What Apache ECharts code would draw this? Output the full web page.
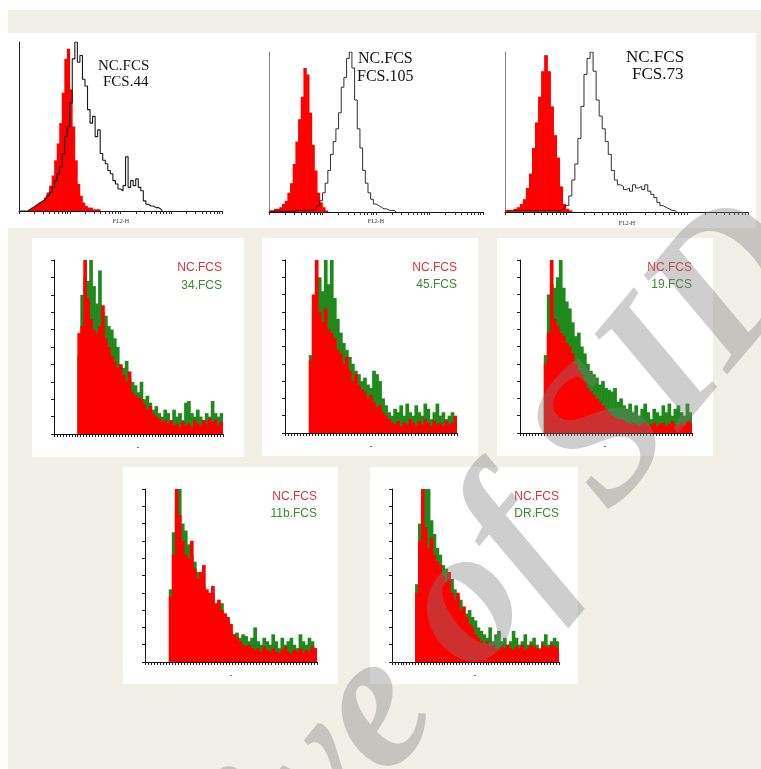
<!DOCTYPE html>
<html>
<head>
<meta charset="utf-8">
<script src="https://cdn.jsdelivr.net/npm/echarts@6/dist/echarts.min.js"></script>
<style>html,body{margin:0;padding:0;background:#ffffff}#c{width:761px;height:769px}</style>
</head>
<body>
<div id="c"></div>
<script>
// ---------- DATA (bin heights, % of axis height) ----------
// Top row: NC (red filled) vs sample (black outline), 80 log-scale bins
const t1Red   = [0,0,0,0,1,2,3,4,5,6,8,11,15,21,30,40,52,70,90,96,72,50,30,16,9,5,3,2,2,1,1,1,0];
const t1Black = [0,0,0,0,1,2,3,4,5,6,7,9,11,14,18,22,26,34,44,50,64,90,100,88,92,78,74,60,52,56,44,48,34,30,28,24,22,18,16,13,12,15,32,14,18,15,19,14,12,6,4,3,3,2,2,1,0];
const t2Red   = [1,1,2,2,3,5,7,12,18,30,44,58,72,90,86,62,42,26,12,6,3,1,0];
const t2Black = [0.5,0.5,0.5,0.5,0.5,0.5,0.5,0.5,0.5,0.5,1,1,1,1,1,1,1,2,4,7,12,18,26,36,44,52,62,78,84,96,100,90,70,52,40,26,18,12,8,5,4,3,2,2,1,1,1,0];
const t3Red   = [1,1,1,2,3,5,8,15,24,40,56,72,88,98,88,66,48,34,16,5,2,1,0];
const t3Black = [1,1,1,1,1,1,1,1,1,1,1,1,1,1,1,1,1,1,1,2,4,10,20,30,46,66,86,96,100,88,70,60,52,44,36,26,20,17,16,14,15,13,17,15,16,14,17,13,11,9,6,4,3,2,1,1,0];
// Middle / bottom rows: NC (red) vs marker (green), 57 bins
const m1Red   = [0,0,0,0,0,0,0,0,58,62,100,78,66,60,58,62,74,55,50,45,42,38,40,34,30,36,24,22,21,20,17,14,16,12,10,9,7,8,6,8,5,6,4,7,5,6,4,8,6,5,8,6,9,7,8,5,7];
const m1Green = [0,0,0,0,0,0,0,0,45,80,90,88,100,85,75,94,70,68,62,60,55,50,40,38,42,32,30,28,24,30,20,22,18,14,16,12,10,14,12,8,14,10,12,8,18,19,12,10,14,10,8,12,10,19,12,10,12];
const m2Red   = [0,0,0,0,0,0,0,0,42,80,100,70,64,72,60,58,55,48,46,40,44,36,30,34,28,25,24,20,22,18,15,16,12,10,8,6,5,7,4,6,5,8,6,4,7,5,8,6,4,7,5,6,4,7,5,6,10];
const m2Green = [0,0,0,0,0,0,0,0,45,72,84,90,82,100,86,100,78,66,58,52,48,44,40,36,34,30,32,28,26,36,34,30,20,16,12,10,14,12,16,10,17,12,10,16,12,10,17,14,8,12,17,10,12,8,10,12,8];
const m3Red   = [0,0,0,0,0,0,0,0,40,58,100,66,62,58,56,52,50,46,40,36,34,30,26,24,22,20,18,16,14,12,10,9,8,8,7,6,5,6,5,4,5,6,4,5,6,4,5,6,4,5,7,5,4,6,5,7,6];
const m3Green = [0,0,0,0,0,0,0,0,45,80,86,84,90,100,84,76,72,64,56,58,50,46,40,36,34,32,28,30,26,25,24,26,18,20,16,14,17,12,16,10,14,17,12,8,14,12,10,16,12,17,10,14,16,12,10,17,12];
const b1Red   = [0,0,0,0,0,0,0,0,38,62,100,85,70,62,60,70,54,48,52,56,42,40,44,34,36,30,28,26,22,16,14,12,10,9,10,8,7,8,6,9,7,6,8,6,5,7,9,6,5,7,6,8,5,7,6,9,8];
const b1Green = [0,0,0,0,0,0,0,0,42,75,88,100,80,76,68,62,58,52,46,44,38,36,40,32,30,34,28,24,18,16,17,14,16,15,12,14,20,12,10,14,12,10,16,12,8,14,10,12,14,10,8,16,12,10,14,12,8];
const b2Red   = [0,0,0,0,0,0,0,0,40,70,100,78,66,72,62,58,56,50,46,52,40,36,40,30,32,26,22,20,16,14,12,10,12,9,10,8,7,9,8,10,8,7,9,8,10,7,8,10,9,8,7,10,9,8,10,9,8];
const b2Green = [0,0,0,0,0,0,0,0,45,80,92,100,100,82,74,66,62,56,54,46,48,42,38,36,32,28,30,26,24,20,18,16,14,20,12,16,18,12,14,10,12,18,14,10,12,16,10,12,14,10,8,12,16,10,12,14,12];

// Text
const topTexts = [['NC.FCS','FCS.44'],['NC.FCS','FCS.105'],['NC.FCS','FCS.73']];
const midTexts = [['NC.FCS','34.FCS'],['NC.FCS','45.FCS'],['NC.FCS','19.FCS'],['NC.FCS','11b.FCS'],['NC.FCS','DR.FCS']];
const topAxisName = 'FL2-H';
const midAxisName = '-';
const watermark = 'Archive of SID';
// log-axis tick values (decades 10^0 .. 10^4)
const logTicks = [1,2,3,4,5,6,7,8,9,10,20,30,40,50,60,70,80,90,100,200,300,400,500,600,700,800,900,1000,2000,3000,4000,5000,6000,7000,8000,9000,10000];

const N_TOP = 80, N_MID = 57;
const topBins = Array.from({length:N_TOP},(_,i)=>String(i));
const midBins = Array.from({length:N_MID},(_,i)=>String(i));

// ---------- LAYOUT ----------
const topPanels = [
  {g:{left:19,top:42,width:203,height:169}, red:t1Red, black:t1Black, txt:topTexts[0], tp:[[98,66],[103,82]], fs:15, name:[121,221], yc:'#222', lw:1.1},
  {g:{left:269,top:52,width:214,height:160}, red:t2Red, black:t2Black, txt:topTexts[1], tp:[[358,59],[357,77]], fs:16, name:[376,221], yc:'#888', lw:0.9},
  {g:{left:505,top:52,width:243,height:160}, red:t3Red, black:t3Black, txt:topTexts[2], tp:[[626,58],[632,75]], fs:17, name:[627,223], yc:'#888', lw:0.9}
];
const midPanels = [
  {box:[32,238,212,219], g:{left:54,top:260,width:169,height:174}, red:m1Red, green:m1Green, txt:midTexts[0], tx:222, ty:[268,286], name:[138,448]},
  {box:[262,238,216,218], g:{left:285,top:260,width:172,height:173}, red:m2Red, green:m2Green, txt:midTexts[1], tx:457, ty:[268,285], name:[371,447]},
  {box:[497,238,216,218], g:{left:520,top:260,width:172,height:173}, red:m3Red, green:m3Green, txt:midTexts[2], tx:692, ty:[268,285], name:[605,447]},
  {box:[123,467,215,217], g:{left:145,top:489,width:172,height:173}, red:b1Red, green:b1Green, txt:midTexts[3], tx:317, ty:[497,514], name:[231,676]},
  {box:[370,467,208,217], g:{left:392,top:489,width:167,height:173}, red:b2Red, green:b2Green, txt:midTexts[4], tx:559, ty:[497,514], name:[475,676]}
];

const RED = '#ff0000', GREEN = '#1f8a1c';
const option = {
  animation:false,
  backgroundColor:'#ffffff',
  grid:[], xAxis:[], yAxis:[], series:[],
  graphic:[
    {type:'rect', z:-10, shape:{x:8,y:10,width:753,height:759}, style:{fill:'#f2efe7'}},
    {type:'rect', z:-9, shape:{x:0,y:33,width:756,height:195}, style:{fill:'#ffffff'}}
  ]
};

function barSeries(xi, yi, data, color, bw){
  return {type:'bar', xAxisIndex:xi, yAxisIndex:yi, data:data, barWidth:bw, barGap:'-100%', barCategoryGap:'0%',
    itemStyle:{color:color, borderWidth:0}, silent:true};
}

topPanels.forEach(p=>{
  const gi = option.grid.length;
  option.grid.push(Object.assign({containLabel:false}, p.g));
  const xi = option.xAxis.length;
  option.xAxis.push({type:'category', gridIndex:gi, data:topBins, boundaryGap:true,
    axisLine:{show:true, lineStyle:{color:'#111', width:1}}, axisTick:{show:false}, axisLabel:{show:false}, splitLine:{show:false}});
  option.xAxis.push({type:'log', gridIndex:gi, min:1, max:10000, logBase:10, position:'bottom',
    axisLine:{show:false}, axisTick:{show:true, customValues:logTicks, length:3, lineStyle:{color:'#333', width:1}},
    axisLabel:{show:false}, splitLine:{show:false}, minorTick:{show:false}});
  const yi = option.yAxis.length;
  option.yAxis.push({type:'value', gridIndex:gi, min:0, max:100,
    axisLine:{show:true, lineStyle:{color:p.yc, width:1}}, axisTick:{show:false}, axisLabel:{show:false}, splitLine:{show:false}});
  option.series.push(barSeries(xi, yi, p.red, RED, p.g.width/N_TOP + 0.7));
  option.series.push({type:'line', xAxisIndex:xi, yAxisIndex:yi, data:p.black, step:'middle', symbol:'none',
    lineStyle:{color:'#1a1a1a', width:p.lw}, z:3, silent:true});
  p.txt.forEach((t,k)=>{
    option.graphic.push({type:'text', z:10, x:p.tp[k][0], y:p.tp[k][1],
      style:{text:t, font:p.fs+'px "Liberation Serif"', fill:'#111', align:'left', verticalAlign:'middle', textAlign:'left', textVerticalAlign:'middle'}});
  });
  option.graphic.push({type:'text', z:10, x:p.name[0], y:p.name[1],
    style:{text:topAxisName, font:'6px "Liberation Serif"', fill:'#333', align:'center', verticalAlign:'middle', textAlign:'center', textVerticalAlign:'middle'}});
});

midPanels.forEach(p=>{
  option.graphic.push({type:'rect', z:-8, shape:{x:p.box[0],y:p.box[1],width:p.box[2],height:p.box[3]}, style:{fill:'#ffffff'}});
  const gi = option.grid.length;
  option.grid.push(Object.assign({containLabel:false}, p.g));
  const xi = option.xAxis.length;
  option.xAxis.push({type:'category', gridIndex:gi, data:midBins, boundaryGap:true,
    axisLine:{show:true, lineStyle:{color:'#111', width:1}},
    axisTick:{show:true, interval:0, length:3, lineStyle:{color:'#222', width:1}},
    axisLabel:{show:false}, splitLine:{show:false}});
  const yi = option.yAxis.length;
  option.yAxis.push({type:'value', gridIndex:gi, min:0, max:100, interval:10,
    axisLine:{show:true, lineStyle:{color:'#111', width:1}},
    axisTick:{show:true, length:3, lineStyle:{color:'#222', width:1}},
    axisLabel:{show:false}, splitLine:{show:false}});
  const bw = p.g.width/N_MID + 0.7;
  option.series.push(barSeries(xi, yi, p.green, GREEN, bw));
  option.series.push(barSeries(xi, yi, p.red, RED, bw));
  option.graphic.push({type:'text', z:10, x:p.tx, y:p.ty[0],
    style:{text:p.txt[0], font:'12px "Liberation Sans"', fill:'#d9363e', align:'right', verticalAlign:'middle', textAlign:'right', textVerticalAlign:'middle'}});
  option.graphic.push({type:'text', z:10, x:p.tx, y:p.ty[1],
    style:{text:p.txt[1], font:'12px "Liberation Sans"', fill:'#3a8a30', align:'right', verticalAlign:'middle', textAlign:'right', textVerticalAlign:'middle'}});
  option.graphic.push({type:'text', z:10, x:p.name[0], y:p.name[1],
    style:{text:midAxisName, font:'9px "Liberation Sans"', fill:'#444', align:'center', verticalAlign:'middle', textAlign:'center', textVerticalAlign:'middle'}});
});

// watermark
option.graphic.push({type:'text', z:100, x:390, y:698, rotation:50*Math.PI/180,
  style:{text:watermark, font:'italic bold 195px "Liberation Serif"', fill:'rgba(125,125,125,0.38)',
    align:'center', verticalAlign:'middle', textAlign:'center', textVerticalAlign:'middle'}});

const chart = echarts.init(document.getElementById('c'), null, {renderer:'canvas'});
chart.setOption(option);
</script>
</body>
</html>
